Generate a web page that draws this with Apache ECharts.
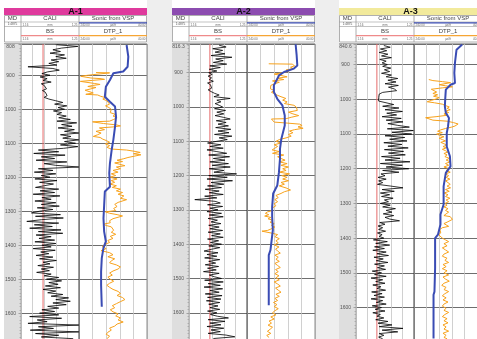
<!DOCTYPE html>
<html>
<head>
<meta charset="utf-8">
<script src="https://cdn.jsdelivr.net/npm/echarts@6/dist/echarts.min.js"></script>
<style>
  html, body { margin: 0; padding: 0; background: #fff; }
  #chart { width: 477px; height: 339px; }
</style>
</head>
<body>
<div id="chart"></div>
<script>
// well names, depth ranges, bit size
const wellNames = ['A-1', 'A-2', 'A-3'];
const titleColors = ['#df3a9d', '#8c4cb0', '#f2ea9c'];
const depthTop = [808, 816.3, 840.6];
const depthBottom = [1676, 1676.4, 1690.6];
const bitSize = [9.8, 9.6, 9.6];

// CALI, sampled every 5 m from caliStart
const caliStep = 5;
const caliStart = [810, 820, 845];
const a1Cali = [12, 15.8, 13, 11.5, 12.8, 11, 13.5, 12, 13.8, 11.2, 12.5, 10.8, 12.2, 7.2, 11.5, 12.6, 10.6,
  9.6, 11, 9.3, 10.5, 9.8, 11.2, 9.5,
  10, 9.8, 10.4, 9.7, 10.2, 9.9, 10.5, 10, 10.8,
  12, 13.2, 11.8, 13.9, 12.4, 13.5, 11.6, 13, 12.2, 13.8,
  12.5, 14.5, 12.2, 15.6, 13, 14.8, 12.4, 15.2, 13.5, 16, 12.8, 14.6,
  13.2, 16, 13.5, 15.4, 12.8, 15.8, 13.3,
  9, 12.5, 8.2, 13.6, 9.5, 11.8, 8.6, 13.9, 10, 12,
  16,
  9, 11.5, 8.3, 12, 9.5, 11, 8.4, 12.2, 9.2, 11.6, 10,
  8.5, 12.5, 9.3, 11.8, 8.1, 12.7, 9.6, 11.2, 8.4, 12, 9.5, 12.6, 8.8, 11.5, 9.2,
  7.8, 12.8, 8.5, 13.3, 9.5, 7.0, 12.5, 8.3, 11.4, 7.5, 12.9, 9, 13.2, 8.6, 11.2,
  9.1, 11.8, 8.4, 12, 9.6, 11.2, 8.1, 11.9, 9.4, 10.8, 8.6, 11.5, 9.2, 12.1, 9.8, 11,
  8.9, 11.6, 9.5, 10.9, 8.7, 11.2, 10, 12.5, 10.4, 13, 10.8, 12.4, 10.2, 12.8, 9.8, 12,
  10.6, 13.2, 11.2, 14.2, 12, 14.5, 11.5, 13.8, 10.6, 12.5, 9.6, 11.8,
  9.2, 12.5, 7.5, 13, 8.8, 10.5, 7.2, 16, 9, 11.6, 7.6, 16, 8.5, 12.5, 9.5, 15];
const a2Cali = [11.2, 12.4, 10.1, 11.8, 10.5, 12.2, 9.8, 13.4, 10.6, 11.9, 10.2, 12.5, 9.6, 11.4, 9.5, 10.8,
  9.4, 10, 9.3, 9.9, 9.5, 10.2, 9.2, 9.7, 9.4, 9.9, 9.3, 9.8,
  10.4, 11.2, 10.3, 13.1, 10.8, 11.5, 10.5, 11.2,
  11.8, 10.4, 12.3, 10.8, 12, 10.5, 11.9, 13.1, 10.7, 12.4, 11,
  12.8, 10.6, 13.2, 11, 12.9, 10.4, 13.4, 11.2, 12.6, 10.8,
  9.2, 11.5, 9.6, 11.9, 9.1, 10.8,
  12.5, 9.4, 13, 10.2, 12.2, 9.6, 12.8, 10, 13.1, 9.5, 12, 10.3,
  14.2, 9.4, 12.6, 9.1, 13.5, 9.8, 12,
  9.2, 11.6, 8.8, 11.2, 9.5, 11.9, 8.7, 10.8,
  7.0, 10.5,
  11.4, 9.2, 11.8, 9.6, 11, 9.1, 11.6, 9.5, 11.9, 9.3, 10.9, 9.8, 11.5, 9.4, 11.2,
  9.6, 11.8, 9.3, 11.4, 9.9, 11.9, 9.2, 11.1, 9.7, 11.6, 9.4, 11.3, 9.8,
  8.6, 11, 9.1, 10.8, 8.7, 11.3, 9.4, 10.6, 8.8, 11.1, 9.2, 10.7, 8.5, 11.2, 9.5, 10.4,
  11.6, 8.7, 11.9, 9.3, 11.4, 8.6, 11.8, 9.6, 11.2, 8.8, 11.7, 9.2, 11.5, 9, 11.3,
  9.4, 11, 9.6, 11.3, 9.2, 10.8, 9.7, 10.9,
  12.8, 9.3, 12.2, 9.6, 11.5, 9.1, 12, 9.8, 11.4, 9.3, 12.4, 13.9, 10.2];
const a3Cali = [10.8, 11.9, 10.2, 11.3, 10, 11.5, 10.4, 12.1, 10.1, 11.2, 10.5, 11.4,
  10.6, 12, 10.9, 11.8, 10.4, 12.1,
  11.2, 13.2, 11.5, 12.9, 11, 13.3, 11.6, 12.6,
  13, 10.6, 10,
  9.8, 9.9, 9.8, 9.9, 10.2,
  12.5, 10.6, 13.4, 11, 14, 11.3, 13, 10.5, 13.8, 11.2, 14.1, 11.5, 13.2,
  15.2, 11.4, 15.9, 12.2, 15.6, 11, 14.4, 11.8, 14.8, 10.8, 13.9, 11.5, 15, 10.9, 14.2, 11.6,
  14.5, 10.4, 13.6, 11, 15.3, 10.2, 14, 11.2, 15.1, 10.6, 13.4,
  10.3, 11, 9.8, 11.2, 9.9, 10.6, 9.7,
  12, 14.1, 10.5, 12.6, 10.2,
  11.8, 10.4, 12.4, 10.9, 11.6, 10.2,
  11.9, 10.6, 12.8, 11.2, 12.2, 10.7, 12.5, 11, 11.8, 13.5,
  10.1, 11, 9.8, 10.6, 9.9, 11.1, 9.7, 10.5, 10, 10.8,
  9, 11.4, 9.4, 11.8, 9.2, 10.9, 8.9, 11.2, 9.6, 11.6, 9.1, 10.7, 9.5, 11.5, 9.2, 10.9, 9.7,
  11.1, 8.8, 10.4, 9.2, 11.2, 8.6, 10.6, 9.4, 11, 8.9, 10.3, 9.6, 11.1, 8.7, 10.5,
  9.1, 10.9, 8.6, 10.6, 9.5, 11.2, 8.8, 10.4, 9.3, 11, 8.9, 10.2, 9.6, 10.8,
  9.4, 11.5, 9.8, 12.2, 10, 14.1, 10.5, 13.2,
  10, 10.8, 9.9, 10.6];

// DTP_1 sonic, [depth, us/ft]
const a1Dtp = [[892, 190], [893, 150], [898, 155], [900, 215], [903, 235], [906, 232], [908, 205], [910, 175], [912, 165], [915, 200], [918, 236], [921, 233], [924, 195], [927, 178], [930, 200], [933, 214], [936, 190], [940, 205], [944, 222], [948, 218], [952, 198], [956, 220], [958, 185], [962, 176], [966, 162], [970, 170], [975, 158], [980, 162], [985, 150], [990, 162], [995, 152], [1000, 145], [1005, 140], [1010, 148], [1015, 133], [1020, 140], [1025, 128], [1030, 138], [1035, 150], [1037, 200], [1040, 198], [1042, 168], [1046, 130], [1049, 118], [1052, 140], [1055, 180], [1060, 165], [1065, 190], [1070, 175], [1075, 185], [1080, 198], [1083, 178], [1088, 170], [1092, 160], [1097, 150], [1102, 162], [1107, 150], [1112, 158], [1117, 145], [1120, 100], [1124, 75], [1127, 60], [1131, 80], [1134, 58], [1138, 62], [1142, 96], [1146, 110], [1150, 128], [1154, 112], [1158, 135], [1162, 120], [1166, 105], [1170, 130], [1175, 118], [1180, 140], [1185, 125], [1190, 145], [1195, 132], [1200, 150], [1205, 128], [1210, 145], [1215, 135], [1220, 150], [1225, 130], [1230, 142],
  [1235, 118], [1240, 130], [1245, 112], [1250, 125], [1255, 108], [1262, 118], [1266, 100], [1270, 104], [1274, 125], [1280, 135], [1286, 128], [1292, 138], [1298, 132], [1302, 162], [1306, 150], [1310, 128], [1314, 112], [1318, 115], [1322, 140], [1328, 150], [1334, 148], [1338, 168], [1342, 160], [1346, 145], [1350, 150], [1356, 138], [1362, 145], [1368, 132], [1374, 148], [1380, 140], [1386, 155], [1392, 150], [1398, 165], [1404, 172], [1410, 160], [1416, 175], [1422, 150], [1428, 140], [1434, 155], [1440, 135], [1446, 145], [1452, 150], [1458, 130], [1464, 118], [1470, 125], [1476, 140], [1482, 150], [1488, 142], [1494, 155], [1500, 148], [1506, 138], [1512, 150], [1518, 158], [1524, 150], [1530, 140], [1536, 125], [1542, 118], [1548, 128], [1554, 112], [1560, 105], [1566, 118], [1572, 130], [1578, 142], [1584, 135], [1590, 148], [1596, 140], [1602, 125], [1608, 132], [1614, 118], [1620, 125], [1626, 110], [1632, 128], [1638, 135], [1644, 150], [1650, 145], [1656, 155], [1662, 160], [1668, 150], [1675, 158]];
const a2Dtp = [[874, 176], [875, 107], [880, 100], [884, 112], [888, 104], [892, 125], [896, 117], [900, 135], [904, 160], [908, 140], [912, 122], [916, 150], [920, 132], [924, 165], [928, 145], [932, 158], [937, 170], [942, 166], [947, 171], [952, 160], [957, 168], [962, 158], [966, 150], [970, 140], [975, 126], [980, 135], [985, 122], [990, 130], [995, 102], [1000, 95], [1005, 100], [1010, 92], [1015, 118], [1020, 105], [1025, 88], [1030, 110], [1034, 125], [1035, 168], [1040, 166], [1044, 160], [1047, 120], [1050, 85], [1054, 78], [1058, 90], [1062, 75], [1066, 100], [1070, 115], [1075, 105], [1080, 118], [1085, 110], [1090, 125], [1095, 145], [1100, 155], [1105, 140], [1110, 160], [1115, 150], [1120, 158], [1125, 166], [1130, 145], [1135, 165], [1140, 132], [1145, 150], [1150, 140], [1155, 128], [1160, 145], [1165, 122], [1170, 140], [1175, 118], [1180, 135], [1185, 125], [1190, 145], [1195, 115], [1200, 138], [1205, 122], [1210, 135], [1215, 118], [1220, 140], [1225, 130],
  [1230, 145], [1236, 125], [1242, 112], [1247, 130], [1252, 140], [1258, 155], [1264, 148], [1270, 158], [1276, 150], [1282, 160], [1288, 155], [1294, 165], [1298, 160], [1302, 166], [1306, 180], [1310, 186], [1314, 176], [1318, 188], [1322, 170], [1326, 178], [1330, 165], [1336, 172], [1340, 160], [1345, 168], [1350, 158], [1356, 170], [1360, 180], [1362, 196], [1366, 196], [1368, 166], [1372, 150], [1378, 158], [1384, 145], [1390, 155], [1396, 148], [1402, 160], [1408, 146], [1414, 156], [1420, 150], [1426, 142], [1432, 158], [1438, 148], [1444, 155], [1450, 145], [1456, 158], [1462, 150], [1468, 142], [1474, 156], [1480, 148], [1486, 158], [1492, 146], [1498, 155], [1504, 145], [1510, 160], [1516, 150], [1522, 142], [1528, 156], [1534, 148], [1540, 140], [1546, 155], [1552, 145], [1558, 158], [1564, 150], [1570, 162], [1576, 152], [1582, 160], [1588, 148], [1594, 158], [1600, 165], [1606, 155], [1612, 170], [1618, 160], [1624, 175], [1630, 168], [1636, 178], [1642, 165], [1648, 172], [1654, 180], [1660, 170], [1666, 182], [1672, 175]];
const a3Dtp = [[943, 193], [946, 180], [949, 150], [952, 124], [955, 130], [958, 160], [961, 140], [964, 118], [967, 150], [971, 185], [975, 190], [979, 168], [983, 180], [987, 165], [991, 178], [995, 160], [999, 170], [1003, 185], [1007, 198], [1010, 175], [1014, 150], [1018, 140], [1022, 128], [1026, 135], [1030, 125], [1034, 140], [1038, 130], [1042, 145], [1046, 135], [1050, 170], [1053, 203], [1057, 200], [1060, 180], [1063, 135], [1067, 115], [1071, 100], [1074, 95], [1077, 110], [1080, 120], [1084, 140], [1088, 155], [1092, 165], [1096, 150], [1100, 168], [1104, 158], [1108, 145], [1112, 160], [1116, 150], [1120, 140], [1124, 155], [1128, 145], [1132, 135], [1136, 148], [1140, 138], [1144, 150], [1148, 140], [1152, 132], [1156, 145], [1160, 135], [1165, 142], [1170, 128], [1175, 138], [1180, 125], [1185, 140], [1190, 130], [1195, 145], [1200, 128], [1205, 138], [1210, 125], [1215, 140], [1220, 130], [1225, 138], [1230, 126], [1235, 140], [1240, 132], [1245, 125],
  [1250, 135], [1255, 124], [1260, 140], [1265, 128], [1270, 145], [1275, 132], [1280, 140], [1285, 126], [1290, 138], [1295, 130], [1300, 142], [1305, 135], [1310, 145], [1315, 132], [1320, 140], [1325, 130], [1330, 138], [1335, 145], [1338, 125], [1342, 119], [1346, 118], [1350, 122], [1354, 135], [1358, 145], [1362, 140], [1366, 130], [1370, 150], [1375, 158], [1380, 160], [1385, 155], [1390, 162], [1395, 158], [1400, 150], [1405, 140], [1410, 130], [1416, 145], [1422, 135], [1428, 150], [1434, 140], [1440, 130], [1446, 145], [1452, 150], [1458, 135], [1464, 142], [1470, 130], [1476, 148], [1482, 138], [1488, 150], [1494, 135], [1500, 145], [1506, 130], [1512, 148], [1518, 140], [1524, 128], [1530, 145], [1536, 152], [1542, 138], [1548, 145], [1554, 130], [1560, 142], [1566, 150], [1572, 138], [1578, 148], [1584, 132], [1590, 145], [1596, 150], [1602, 138], [1608, 145], [1614, 130], [1620, 142], [1626, 150], [1632, 135], [1638, 145], [1644, 132], [1650, 148], [1656, 138], [1662, 145], [1668, 130], [1674, 148], [1680, 138], [1686, 145], [1690, 135]];

// Sonic from VSP
const a1VspDepth = [811, 845, 875, 889, 894, 899, 914, 934, 963, 978, 992, 1022, 1051, 1090, 1120, 1159, 1188, 1228, 1242, 1282, 1321, 1360, 1389, 1408, 1438, 1478, 1517, 1581];
const a1Vsp = [100, 95, 97, 110, 139, 144, 149, 161, 164, 149, 134, 131, 134, 139, 144, 149, 151, 149, 164, 166, 168, 166, 161, 168, 173, 175, 175, 173];
const a2VspDepth = [817, 849, 879, 888, 898, 908, 937, 956, 976, 995, 1025, 1054, 1093, 1122, 1151, 1190, 1229, 1252, 1291, 1320, 1359, 1417, 1432, 1476, 1515, 1578];
const a2Vsp = [97, 94, 92, 102, 131, 146, 161, 161, 151, 136, 129, 129, 139, 143, 143, 146, 151, 163, 166, 166, 164, 171, 176, 176, 176, 176];
const a3VspDepth = [842, 857, 895, 924, 953, 958, 972, 1001, 1020, 1039, 1054, 1078, 1097, 1136, 1164, 1193, 1212, 1251, 1303, 1332, 1361, 1390, 1400, 1486, 1554, 1563, 1650, 1689];
const a3Vsp = [87, 105, 110, 112, 110, 124, 139, 141, 142, 139, 129, 132, 136, 136, 126, 124, 139, 146, 146, 156, 156, 164, 173, 173, 175, 178, 178, 178];

const caliLogs = [a1Cali, a2Cali, a3Cali];
const dtpLogs = [a1Dtp, a2Dtp, a3Dtp];
const vspDepths = [a1VspDepth, a2VspDepth, a3VspDepth];
const vspLogs = [a1Vsp, a2Vsp, a3Vsp];

// layout
const panelX = [4, 172, 339];
const mdW = 17, caliW = 58, sonicW = 68;
const plotTop = 44;
const font = '"Liberation Sans", Arial, sans-serif';

const grid = [], xAxis = [], yAxis = [], series = [], graphic = [];

function txt(text, x, y, size, align, color, bold) {
  return {
    type: 'text', z: 20,
    style: {
      text, x, y, fill: color || '#333',
      font: (bold ? 'bold ' : '') + size + 'px ' + font,
      align: align || 'center', verticalAlign: 'middle',
      textAlign: align || 'center', textVerticalAlign: 'middle'
    }
  };
}
function ln(x1, y1, x2, y2, color, width, z) {
  return { type: 'line', z: z || 20, shape: { x1, y1, x2, y2 }, style: { stroke: color, lineWidth: width } };
}
function box(x, y, w, h, fill, z) {
  return { type: 'rect', z: z || 0, shape: { x, y, width: w, height: h }, style: { fill } };
}

// grey gaps between wells
graphic.push(box(147, 0, 25, 339, '#eeeeee', -5));
graphic.push(box(315, 0, 24, 339, '#eeeeee', -5));

wellNames.forEach((name, i) => {
  const x = panelX[i];
  const cx = x + mdW, sx = cx + caliW, w = mdW + caliW + sonicW;
  const top = depthTop[i], bottom = depthBottom[i];

  // header
  graphic.push(box(x, 8, w, 7, titleColors[i], 10));
  graphic.push(txt(name, x + w / 2, 11.6, 9, 'center', '#111', true));
  graphic.push({ type: 'rect', z: 10, shape: { x: x + 0.5, y: 15.5, width: w - 1, height: 26.5 }, style: { fill: '#fff', stroke: '#9a9a9a', lineWidth: 0.8 } });
  graphic.push(ln(cx, 15, cx, 42, '#9a9a9a', 0.8));
  graphic.push(ln(sx, 15, sx, 42, '#9a9a9a', 0.8));
  graphic.push(ln(x, 22, x + w, 22, '#9a9a9a', 0.6));
  graphic.push(ln(x, 26.5, x + w, 26.5, '#9a9a9a', 0.6));
  graphic.push(txt('MD', x + mdW / 2, 18.8, 6, 'center', '#444'));
  graphic.push(txt('CALI', cx + caliW / 2, 18.8, 6, 'center', '#444'));
  graphic.push(txt('Sonic from VSP', sx + sonicW / 2, 18.8, 6, 'center', '#444'));
  graphic.push(txt('1:4875', x + mdW / 2, 24.4, 3.2, 'center', '#555'));
  graphic.push(ln(sx, 22.8, x + w, 22.8, '#3b4db3', 1.3));
  [[cx, caliW, '1.16', 'mm', '1.25'], [sx, sonicW, '240.00', '\u00b5s/ft', '40.00']].forEach(([ox, ow, l, m, r]) => {
    graphic.push(txt(l, ox + 1.5, 24.8, 3, 'left', '#666'));
    graphic.push(txt(m, ox + ow / 2, 24.8, 3, 'center', '#666'));
    graphic.push(txt(r, ox + ow - 1.5, 24.8, 3, 'right', '#666'));
    graphic.push(txt(l, ox + 1.5, 39.2, 3, 'left', '#666'));
    graphic.push(txt(m, ox + ow / 2, 39.2, 3, 'center', '#666'));
    graphic.push(txt(r, ox + ow - 1.5, 39.2, 3, 'right', '#666'));
  });
  graphic.push(txt('BS', cx + caliW / 2, 31, 6, 'center', '#444'));
  graphic.push(txt('DTP_1', sx + sonicW / 2, 31, 6, 'center', '#444'));
  graphic.push(ln(cx, 35.6, sx, 35.6, '#ef8a8a', 1.2));
  graphic.push(ln(sx, 35.6, x + w, 35.6, '#f6a534', 1.2));

  // track backgrounds and borders
  graphic.push(box(x, plotTop, mdW, 339 - plotTop, '#dedede', -5));
  graphic.push(ln(cx, plotTop, cx, 339, '#9a9a9a', 0.8, 30));
  graphic.push(ln(sx, plotTop, sx, 339, '#3a3a3a', 1, 30));
  graphic.push(ln(x + w, plotTop, x + w, 339, '#8a8a8a', 1, 30));
  graphic.push(ln(x, plotTop - 0.5, x + w, plotTop - 0.5, '#9a9a9a', 0.8, 30));

  const gi = i * 2;
  grid.push({ left: cx, top: plotTop, width: caliW, bottom: 0 });
  grid.push({ left: sx, top: plotTop, width: sonicW, bottom: 0 });

  const xBase = {
    type: 'value', position: 'top',
    axisLine: { show: false }, axisTick: { show: false }, axisLabel: { show: false },
    splitLine: { show: true, lineStyle: { color: '#c4c4c4', width: 0.8 } }
  };
  xAxis.push(Object.assign({ gridIndex: gi, min: 6, max: 16, interval: 2 }, xBase));
  xAxis.push(Object.assign({ gridIndex: gi + 1, min: 40, max: 240, interval: 40, inverse: true }, xBase));

  const yBase = {
    type: 'value', inverse: true, min: top, max: bottom, splitNumber: 9,
    axisLine: { show: false },
    splitLine: { show: true, lineStyle: { color: '#6e6e6e', width: 1.1 } }
  };
  yAxis.push(Object.assign({
    gridIndex: gi, position: 'left',
    axisTick: { show: true, length: 2.5, lineStyle: { color: '#777', width: 0.6 } },
    minorTick: { show: true, splitNumber: 10, length: 1.5, lineStyle: { color: '#888', width: 0.5 } },
    axisLabel: {
      show: true, fontSize: 5, color: '#555', fontFamily: font, margin: 10.5, align: 'center',
      showMinLabel: true, showMaxLabel: false, verticalAlignMinLabel: 'top',
      formatter: v => String(Math.round(v * 10) / 10)
    }
  }, yBase));
  yAxis.push(Object.assign({
    gridIndex: gi + 1, axisTick: { show: false }, axisLabel: { show: false }
  }, yBase));

  const line = (xi, data, color, width, z) => ({
    type: 'line', xAxisIndex: xi, yAxisIndex: xi, data, symbol: 'none',
    lineStyle: { color, width }, silent: true, z, clip: true
  });
  series.push(line(gi, [[bitSize[i], top], [bitSize[i], bottom]], '#e66a6a', 1, 3));
  series.push(line(gi, caliLogs[i].map((v, k) => [v, caliStart[i] + k * caliStep]), '#000', 0.8, 4));
  series.push(line(gi + 1, dtpLogs[i].map(([d, v]) => [v, d]), '#f7a21c', 1, 3));
  series.push(line(gi + 1, vspLogs[i].map((v, k) => [v, vspDepths[i][k]]), '#3a4cb4', 2, 4));
});

const chart = echarts.init(document.getElementById('chart'), null, { renderer: 'canvas' });
chart.setOption({
  animation: false,
  backgroundColor: '#fff',
  grid, xAxis, yAxis, series, graphic
});
</script>
</body>
</html>
